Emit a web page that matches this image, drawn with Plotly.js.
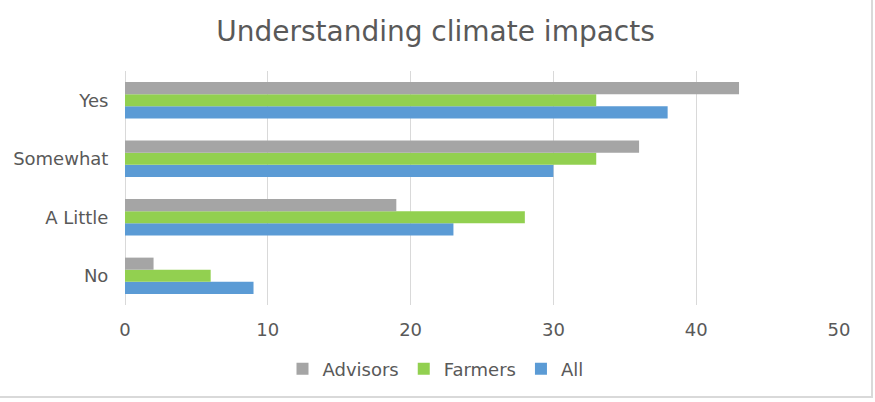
<!DOCTYPE html>
<html>
<head>
<meta charset="utf-8">
<script src="https://cdn.plot.ly/plotly-3.0.1.min.js"></script>
<style>
  html, body { margin: 0; padding: 0; background: #fff; }
  #chart { width: 871px; height: 396px; border-right: 2px solid #d9d9d9; border-bottom: 2px solid #d9d9d9; }
</style>
</head>
<body>
<div id="chart"></div>
<script>
// Survey responses, listed bottom-to-top as Plotly places categories
const categories = ["No", "A Little", "Somewhat", "Yes"];
const allValues = [9, 23, 30, 38];
const farmersValues = [6, 28, 33, 33];
const advisorsValues = [2, 19, 36, 43];
const xTicks = [0, 10, 20, 30, 40, 50];

const font = "DejaVu Sans, Verdana, sans-serif";
const textColor = "#595959";

const traces = [
  { name: "All", y: categories, x: allValues, color: "#5B9BD5" },
  { name: "Farmers", y: categories, x: farmersValues, color: "#92D050" },
  { name: "Advisors", y: categories, x: advisorsValues, color: "#A5A5A5" }
].map(s => ({
  type: "bar",
  orientation: "h",
  name: s.name,
  x: s.x,
  y: s.y,
  marker: { color: s.color },
  hoverinfo: "x+name"
}));

const layout = {
  width: 871,
  height: 396,
  margin: { l: 125, r: 32, t: 71, b: 91 },
  paper_bgcolor: "#ffffff",
  plot_bgcolor: "#ffffff",
  font: { family: font, color: textColor, size: 18 },
  title: {
    text: "Understanding climate impacts",
    font: { family: font, size: 28, color: textColor },
    x: 0.5, xref: "container", xanchor: "center",
    y: 0.92, yref: "container", yanchor: "middle"
  },
  barmode: "group",
  bargap: 0.38,
  bargroupgap: 0,
  xaxis: {
    range: [0, 50],
    tickvals: xTicks,
    ticktext: xTicks.map(String),
    showgrid: true,
    gridcolor: "#d9d9d9",
    gridwidth: 1,
    zeroline: true,
    zerolinecolor: "#d9d9d9",
    showline: false,
    ticks: "outside",
    ticklen: 8,
    tickcolor: "rgba(0,0,0,0)",
    tickfont: { family: font, size: 18, color: textColor },
    automargin: false,
    fixedrange: true
  },
  yaxis: {
    type: "category",
    categoryorder: "array",
    categoryarray: categories,
    range: [-0.5, 3.5],
    showgrid: false,
    zeroline: false,
    showline: false,
    ticks: "outside",
    ticklen: 12,
    tickcolor: "rgba(0,0,0,0)",
    tickfont: { family: font, size: 18, color: textColor },
    automargin: false,
    fixedrange: true
  },
  showlegend: true,
  legend: {
    orientation: "h",
    traceorder: "reversed",
    xref: "container",
    x: 0.5, xanchor: "center",
    yref: "container",
    y: 0.115, yanchor: "top",
    font: { family: font, size: 18, color: textColor },
    itemwidth: 30
  }
};

Plotly.newPlot("chart", traces, layout, { displayModeBar: false, staticPlot: true });
</script>
</body>
</html>
